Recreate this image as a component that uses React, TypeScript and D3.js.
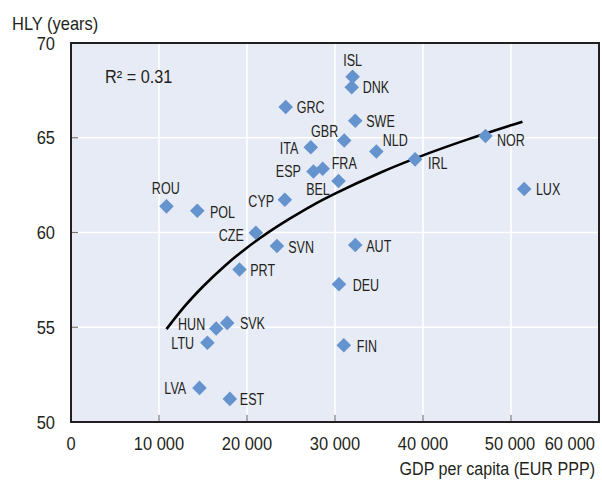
import { useEffect, useRef } from 'react'
import * as d3 from 'd3'

const countries = ['ISL', 'DNK', 'SWE', 'GBR', 'NLD', 'IRL', 'NOR', 'LUX', 'BEL', 'FRA', 'ESP', 'ITA', 'GRC', 'CYP', 'CZE', 'SVN', 'PRT', 'POL', 'ROU', 'AUT', 'DEU', 'FIN', 'HUN', 'SVK', 'LTU', 'LVA', 'EST']
const gdp = [32000, 31900, 32300, 31050, 34700, 39100, 47100, 51500, 30400, 28600, 27550, 27250, 24400, 24300, 21000, 23400, 19150, 14350, 10850, 32300, 30450, 31000, 16500, 17750, 15500, 14600, 18050]
const hly = [68.22, 67.66, 65.9, 64.85, 64.27, 63.86, 65.09, 62.3, 62.72, 63.36, 63.22, 64.5, 66.62, 61.73, 59.99, 59.29, 58.05, 61.15, 61.38, 59.34, 57.27, 54.05, 54.93, 55.23, 54.18, 51.8, 51.22]

// trend line
const trendGdp = [10850, 13000, 15000, 17500, 20000, 22500, 25000, 27500, 30000, 35000, 40000, 45000, 51300]
const trendHly = [54.9, 56.15, 57.15, 58.25, 59.2, 60.03, 60.77, 61.45, 62.05, 63.13, 64.07, 64.9, 65.85]

const xTicks = [0, 10000, 20000, 30000, 40000, 50000, 60000]
const yTicks = [50, 55, 60, 65, 70]

// label offsets from the marker, in px: [dx, dy, anchor]
const labelPos: Record<string, [number, number, string]> = {
  ISL: [0, -10.7, 'middle'], DNK: [11, 6, 'start'], SWE: [11, 6, 'start'],
  GBR: [-6, -3.3, 'end'], NLD: [6.4, -5.7, 'start'], IRL: [13, 10, 'start'],
  NOR: [11.4, 10, 'start'], LUX: [11.7, 6, 'start'], BEL: [-8.7, 14.5, 'end'],
  FRA: [9, 0.6, 'start'], ESP: [-12.6, 5.3, 'end'], ITA: [-12.4, 7, 'end'],
  GRC: [11, 6, 'start'], CYP: [-10.7, 7, 'end'], CZE: [-12, 8.3, 'end'],
  SVN: [11.3, 6.7, 'start'], PRT: [10.7, 6.7, 'start'], POL: [12.7, 7, 'start'],
  ROU: [-0.7, -12, 'middle'], AUT: [11, 6.7, 'start'], DEU: [13.7, 6.7, 'start'],
  FIN: [13, 6.3, 'start'], HUN: [-11, 1, 'end'], SVK: [12.7, 6, 'start'],
  LTU: [-13.3, 6.5, 'end'], LVA: [-13.3, 6, 'end'], EST: [10, 6, 'start'],
}

const FONT = "'Liberation Sans', Arial, sans-serif"
const INK = '#231F20'

export default function App() {
  const svgRef = useRef<SVGSVGElement>(null)

  useEffect(() => {
    if (!svgRef.current) return
    const svg = d3.select(svgRef.current)
    svg.selectAll('*').remove()
    svg.attr('font-family', FONT)

    // condensed text: Liberation Sans squeezed horizontally
    const label = (g: any, x: number, y: number, txt: string, size: number, sx: number, anchor = 'start') =>
      g.append('text')
        .attr('transform', `translate(${x},${y}) scale(${sx},1)`)
        .attr('text-anchor', anchor)
        .attr('font-size', size).attr('fill', INK)
        .text(txt)

    const left = 71, right = 599, top = 43, bottom = 422
    const x = d3.scaleLinear().domain([0, 60000]).range([left, right])
    const y = d3.scaleLinear().domain([50, 70]).range([bottom, top])

    svg.append('rect')
      .attr('x', left).attr('y', top).attr('width', right - left).attr('height', bottom - top)
      .attr('fill', '#E7EBF6')

    // grid
    svg.append('g').selectAll('line').data(xTicks.slice(1, -1)).join('line')
      .attr('x1', d => x(d)).attr('x2', d => x(d)).attr('y1', top).attr('y2', bottom)
      .attr('stroke', '#fff').attr('stroke-width', 1.6)
    svg.append('g').selectAll('line').data(yTicks.slice(1, -1)).join('line')
      .attr('y1', d => y(d)).attr('y2', d => y(d)).attr('x1', left).attr('x2', right)
      .attr('stroke', '#fff').attr('stroke-width', 1.6)

    // inner ticks
    svg.append('g').selectAll('line').data(xTicks.slice(1, -1)).join('line')
      .attr('x1', d => x(d)).attr('x2', d => x(d)).attr('y1', bottom - 7).attr('y2', bottom)
      .attr('stroke', '#777').attr('stroke-width', 1.2)
    svg.append('g').selectAll('line').data(yTicks.slice(1, -1)).join('line')
      .attr('y1', d => y(d)).attr('y2', d => y(d)).attr('x1', left).attr('x2', left + 7)
      .attr('stroke', '#777').attr('stroke-width', 1.2)

    // frame
    svg.append('rect')
      .attr('x', left).attr('y', top).attr('width', right - left).attr('height', bottom - top)
      .attr('fill', 'none').attr('stroke', INK).attr('stroke-width', 2)

    // tick labels
    const fmt = (v: number) => v === 0 ? '0' : d3.format(',')(v).replace(',', ' ')
    const xl = svg.append('g')
    xTicks.forEach((d, i) => {
      const last = i === xTicks.length - 1
      const px = last ? x(d) - 4 : i === xTicks.length - 2 ? x(d) - 1 : x(d)
      label(xl, px, 450, fmt(d), 18.5, 0.89, last ? 'end' : 'middle')
    })
    const yl = svg.append('g')
    yTicks.forEach(d => label(yl, 55, y(d) + 6.7, String(d), 18.5, 0.89, 'end'))

    // axis titles
    label(svg, 12, 30, 'HLY (years)', 18.5, 0.89)
    label(svg, 595, 475, 'GDP per capita (EUR PPP)', 18.5, 0.87, 'end')

    // R²
    label(svg, 105, 82.5, 'R² = 0.31', 17.5, 0.93)

    // trend line
    const line = d3.line<number>()
      .x((_, i) => x(trendGdp[i]))
      .y(d => y(d))
      .curve(d3.curveMonotoneX)
    svg.append('path').datum(trendHly)
      .attr('d', line)
      .attr('fill', 'none').attr('stroke', '#000').attr('stroke-width', 2.6)

    // points
    const sym = d3.symbol().type(d3.symbolSquare).size(106)
    svg.append('g').selectAll('path').data(countries).join('path')
      .attr('d', sym())
      .attr('transform', (_, i) => `translate(${x(gdp[i])},${y(hly[i])}) rotate(45)`)
      .attr('fill', '#6493CE')

    // labels
    const lg = svg.append('g')
    countries.forEach((c, i) => {
      const [dx, dy, anchor] = labelPos[c]
      label(lg, x(gdp[i]) + dx, y(hly[i]) + dy, c, 16.5, 0.76, anchor)
    })
  }, [])

  return (
    <svg ref={svgRef} width={602} height={481}
      style={{ position: 'absolute', left: 0, top: 0, display: 'block', background: '#fff' }} />
  )
}
